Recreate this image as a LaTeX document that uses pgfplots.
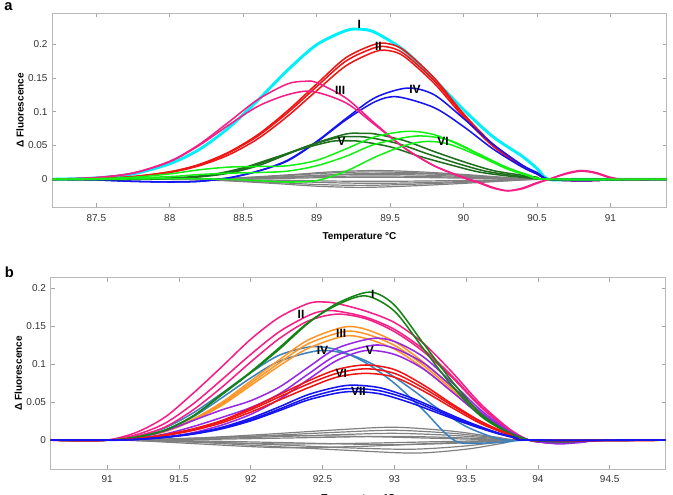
\documentclass[border=0pt]{standalone}
\usepackage{fontspec}
\setmainfont{Liberation Sans}
\usepackage{pgfplots}
\pgfplotsset{compat=1.18}
\definecolor{cI}{RGB}{0,240,250}
\definecolor{cRed}{RGB}{240,20,20}
\definecolor{cPink}{RGB}{245,30,135}
\definecolor{cBlue}{RGB}{20,20,240}
\definecolor{cDG}{RGB}{30,110,30}
\definecolor{cLG}{RGB}{20,240,20}
\definecolor{cGray}{RGB}{128,128,128}
\definecolor{cGreenB}{RGB}{20,130,20}
\definecolor{cOrange}{RGB}{255,150,40}
\definecolor{cPurple}{RGB}{150,40,230}
\definecolor{cSteel}{RGB}{60,130,190}
\tikzset{
  rl/.style={font=\fontsize{9}{10}\selectfont\bfseries, inner sep=0pt},
  gr/.style={cGray, line width=0.9pt},
}
\pgfplotsset{
  myax/.style={
    scale only axis, anchor=south west,
    axis line style={draw=gray!55},
    every tick/.style={gray!70, line width=0.5pt},
    tick align=inside, major tick length=3pt,
    ticklabel style={font=\fontsize{7.5}{8}\selectfont, text=black!80},
    xticklabel style={yshift=-1.5pt},
    /pgf/number format/assume math mode=true,
    scaled x ticks=false, scaled y ticks=false,
    yticklabel style={/pgf/number format/fixed, /pgf/number format/precision=2},
    xticklabel style={/pgf/number format/fixed, /pgf/number format/precision=1},
    ytick={0,0.05,0.1,0.15,0.2},
    xlabel style={font=\fontsize{7.5}{8}\selectfont\bfseries},
    ylabel style={font=\fontsize{7.5}{8}\selectfont\bfseries},
    xlabel shift=2pt, ylabel shift=-3.5pt,
    xlabel={Temperature °C}, ylabel={Δ Fluorescence},
    every axis plot/.append style={smooth, no markers, line width=1.15pt},
  },
}
\begin{document}
\begin{tikzpicture}
\useasboundingbox (0,0) rectangle (504.75pt,-370.5pt);
\node[anchor=north west, font=\fontsize{11}{12}\selectfont\bfseries, inner sep=0pt] at (3pt,-2pt) {a};
\node[anchor=north west, font=\fontsize{11}{12}\selectfont\bfseries, inner sep=0pt] at (3.5pt,-200pt) {b};
% ---------------- panel a ----------------
\begin{axis}[myax, at={(39.2pt,-155.5pt)}, width=460.8pt, height=145.5pt,
  xmin=87.2, xmax=91.383, ymin=-0.0415, ymax=0.2455,
  xtick={87.5,88,88.5,89,89.5,90,90.5,91}]
% gray
\addplot[gr] coordinates {(87.2,0)(88.0,0)(88.4,0.0016)(88.8,0.0065)(89.1,0.011)(89.4,0.013)(89.7,0.011)(90.0,0.0072)(90.3,0.0026)(90.55,0)(91.383,0)};
\addplot[gr] coordinates {(87.2,0)(88.0,0)(88.4,0.0013)(88.8,0.0055)(89.1,0.0094)(89.4,0.011)(89.7,0.0094)(90.0,0.006)(90.3,0.0022)(90.55,0)(91.383,0)};
\addplot[gr] coordinates {(87.2,0)(88.1,0)(88.5,0.0011)(88.9,0.0045)(89.2,0.0077)(89.5,0.009)(89.8,0.0077)(90.05,0.005)(90.3,0.0018)(90.55,0)(91.383,0)};
\addplot[gr] coordinates {(87.2,0)(88.0,0)(88.4,0.0009)(88.8,0.0038)(89.1,0.0064)(89.4,0.0075)(89.7,0.0064)(90.0,0.0041)(90.3,0.0015)(90.55,0)(91.383,0)};
\addplot[gr] coordinates {(87.2,0)(88.0,0)(88.4,0.0006)(88.8,0.0025)(89.1,0.0043)(89.4,0.005)(89.7,0.0043)(90.0,0.0028)(90.3,0.001)(90.55,0)(91.383,0)};
\addplot[gr] coordinates {(87.2,0)(88.0,0)(88.4,0.0004)(88.8,0.0015)(89.1,0.0026)(89.4,0.003)(89.7,0.0026)(90.0,0.0017)(90.3,0.0006)(90.55,0)(91.383,0)};
\addplot[gr] coordinates {(87.2,0)(88.0,0)(88.4,-0.0004)(88.8,-0.0015)(89.1,-0.0026)(89.4,-0.003)(89.7,-0.0026)(90.0,-0.0017)(90.3,-0.0006)(90.55,0)(91.383,0)};
\addplot[gr] coordinates {(87.2,0)(88.0,0)(88.4,-0.0007)(88.8,-0.003)(89.1,-0.0051)(89.4,-0.006)(89.7,-0.0051)(90.0,-0.0033)(90.3,-0.0012)(90.55,0)(91.383,0)};
\addplot[gr] coordinates {(87.2,0)(87.9,0)(88.3,-0.0011)(88.7,-0.0045)(89.0,-0.0077)(89.3,-0.009)(89.6,-0.0077)(89.95,-0.005)(90.3,-0.0018)(90.55,0)(91.383,0)};
\addplot[gr] coordinates {(87.2,0)(87.9,0)(88.3,-0.0014)(88.7,-0.006)(89.0,-0.0102)(89.3,-0.012)(89.6,-0.0102)(89.95,-0.0066)(90.3,-0.0024)(90.55,0)(91.383,0)};
% cyan I
\addplot[cI, line width=2.2pt] coordinates {(87.2,0)(87.5,0.002)(87.75,0.008)(88.0,0.023)(88.2,0.044)(88.4,0.076)(88.6,0.117)(88.8,0.161)(89.0,0.199)(89.2,0.220)(89.3,0.222)(89.4,0.217)(89.6,0.190)(89.8,0.148)(90.0,0.103)(90.2,0.063)(90.4,0.034)(90.5,0.016)(90.58,0)(90.8,0)(91.383,0)};
% red II
\addplot[cRed] coordinates {(87.2,0)(87.5,0.001)(87.75,0.004)(88.0,0.011)(88.2,0.022)(88.4,0.040)(88.6,0.066)(88.8,0.101)(89.0,0.141)(89.2,0.180)(89.4,0.200)(89.5,0.200)(89.6,0.190)(89.8,0.150)(90.0,0.097)(90.2,0.052)(90.4,0.020)(90.5,0.008)(90.58,0)(90.8,-0.002)(91.0,-0.001)(91.383,0)};
\addplot[cRed] coordinates {(87.2,0)(87.5,0.001)(87.75,0.004)(88.0,0.011)(88.2,0.021)(88.4,0.039)(88.6,0.064)(88.8,0.098)(89.0,0.137)(89.2,0.175)(89.4,0.195)(89.5,0.195)(89.6,0.185)(89.8,0.146)(90.0,0.095)(90.2,0.051)(90.4,0.020)(90.5,0.008)(90.58,0)(90.8,-0.002)(91.0,-0.001)(91.383,0)};
\addplot[cRed] coordinates {(87.2,0)(87.5,0.001)(87.75,0.003)(88.0,0.010)(88.2,0.020)(88.4,0.036)(88.6,0.060)(88.8,0.093)(89.0,0.131)(89.2,0.168)(89.4,0.189)(89.5,0.190)(89.6,0.181)(89.8,0.142)(90.0,0.092)(90.2,0.049)(90.4,0.019)(90.5,0.008)(90.58,0)(90.8,-0.002)(91.0,-0.001)(91.383,0)};
% blue IV
\addplot[cBlue] coordinates {(87.2,0)(87.5,-0.001)(87.75,-0.003)(88.0,-0.004)(88.2,-0.003)(88.4,0.002)(88.6,0.012)(88.8,0.028)(89.0,0.056)(89.2,0.090)(89.4,0.121)(89.62,0.135)(89.8,0.125)(90.0,0.090)(90.2,0.052)(90.4,0.021)(90.5,0.010)(90.58,0)(90.8,-0.002)(91.0,-0.001)(91.383,0)};
\addplot[cBlue] coordinates {(87.2,0)(87.5,-0.001)(87.75,-0.003)(88.0,-0.004)(88.2,-0.003)(88.4,0.002)(88.6,0.012)(88.8,0.027)(89.0,0.055)(89.2,0.088)(89.4,0.115)(89.55,0.122)(89.8,0.106)(90.0,0.078)(90.2,0.045)(90.4,0.018)(90.5,0.008)(90.58,0)(90.8,-0.002)(91.0,-0.001)(91.383,0)};
% dark green V
\addplot[cDG] coordinates {(87.2,0)(87.75,0)(88.0,0.001)(88.2,0.0035)(88.4,0.009)(88.6,0.020)(88.8,0.037)(89.0,0.054)(89.2,0.067)(89.3,0.068)(89.4,0.067)(89.6,0.057)(89.8,0.041)(90.0,0.026)(90.2,0.013)(90.4,0.006)(90.5,0.003)(90.58,0)(91.383,0)};
\addplot[cDG] coordinates {(87.2,0)(87.7,0)(87.95,0.001)(88.15,0.003)(88.35,0.008)(88.55,0.019)(88.75,0.034)(88.95,0.050)(89.15,0.062)(89.25,0.063)(89.35,0.062)(89.55,0.053)(89.75,0.038)(89.95,0.024)(90.15,0.012)(90.35,0.0055)(90.5,0.002)(90.58,0)(91.383,0)};
\addplot[cDG] coordinates {(87.2,0)(87.65,0)(87.9,0.001)(88.1,0.003)(88.3,0.0075)(88.5,0.017)(88.7,0.031)(88.9,0.045)(89.1,0.056)(89.2,0.057)(89.3,0.056)(89.5,0.048)(89.7,0.034)(89.9,0.022)(90.1,0.011)(90.3,0.005)(90.5,0.001)(90.58,0)(91.383,0)};
% pink III
\addplot[cPink] coordinates {(87.2,0)(87.5,0.0026)(87.75,0.0094)(88.0,0.0267)(88.2,0.0515)(88.4,0.0844)(88.6,0.118)(88.8,0.141)(88.92,0.145)(89.0,0.143)(89.2,0.120)(89.4,0.082)(89.6,0.046)(89.8,0.020)(90.0,0.003)(90.1,-0.004)(90.2,-0.012)(90.3,-0.017)(90.4,-0.014)(90.5,-0.006)(90.58,0)(90.7,0.009)(90.8,0.013)(90.9,0.010)(91.0,0.003)(91.1,0)(91.383,0)};
\addplot[cPink] coordinates {(87.2,0)(87.5,0.0025)(87.75,0.009)(88.0,0.026)(88.2,0.050)(88.4,0.080)(88.6,0.108)(88.8,0.125)(88.97,0.130)(89.2,0.113)(89.4,0.080)(89.6,0.046)(89.8,0.020)(90.0,0.002)(90.1,-0.005)(90.2,-0.013)(90.3,-0.017)(90.4,-0.013)(90.5,-0.005)(90.58,0)(90.7,0.008)(90.8,0.012)(90.9,0.009)(91.0,0.002)(91.1,0)(91.383,0)};
% light green VI
\addplot[cLG] coordinates {(87.2,0)(87.5,0.001)(87.75,0.003)(88.0,0.008)(88.2,0.014)(88.4,0.018)(88.6,0.019)(88.8,0.020)(89.0,0.028)(89.2,0.045)(89.4,0.063)(89.62,0.071)(89.8,0.066)(90.0,0.048)(90.2,0.026)(90.4,0.009)(90.58,0)(91.383,0)};
\addplot[cLG] coordinates {(87.2,0)(87.5,0)(88.0,0.004)(88.2,0.007)(88.4,0.009)(88.6,0.010)(88.8,0.012)(89.0,0.020)(89.2,0.034)(89.4,0.052)(89.68,0.064)(89.9,0.058)(90.1,0.038)(90.3,0.017)(90.45,0.006)(90.58,0)(91.383,0)};
\addplot[cLG] coordinates {(87.2,0)(87.5,0)(88.0,0.001)(88.4,0)(88.6,-0.002)(88.8,-0.004)(89.0,-0.002)(89.2,0.012)(89.4,0.033)(89.6,0.050)(89.75,0.056)(89.9,0.052)(90.1,0.035)(90.3,0.015)(90.45,0.005)(90.58,0)(91.383,0)};
\node[rl] at (axis cs:89.29,0.2295) {I};
\node[rl] at (axis cs:89.42,0.197) {II};
\node[rl] at (axis cs:89.16,0.131) {III};
\node[rl] at (axis cs:89.67,0.1325) {IV};
\node[rl] at (axis cs:89.17,0.056) {V};
\node[rl] at (axis cs:89.86,0.056) {VI};
\end{axis}
% ---------------- panel b ----------------
\begin{axis}[myax, at={(38.0pt,-351.75pt)}, width=461.25pt, height=143.5pt,
  xmin=90.606, xmax=94.89, ymin=-0.038, ymax=0.214,
  xtick={91,91.5,92,92.5,93,93.5,94,94.5}]
% gray
\addplot[gr] coordinates {(90.606,0)(91.1,0)(91.6,0.0026)(92.1,0.0077)(92.6,0.0136)(93.0,0.017)(93.4,0.0119)(93.7,0.0043)(93.92,0)(94.89,0)};
\addplot[gr] coordinates {(90.606,0)(91.1,0)(91.6,0.002)(92.1,0.0059)(92.6,0.0104)(93.0,0.013)(93.4,0.0091)(93.7,0.0033)(93.92,0)(94.89,0)};
\addplot[gr] coordinates {(90.606,0)(91.1,0)(91.6,0.0014)(92.1,0.0041)(92.6,0.0072)(93.0,0.009)(93.4,0.0063)(93.7,0.0023)(93.92,0)(94.89,0)};
\addplot[gr] coordinates {(90.606,0)(91.1,0)(91.6,0.0008)(92.1,0.0023)(92.6,0.004)(93.0,0.005)(93.4,0.0035)(93.7,0.0013)(93.92,0)(94.89,0)};
\addplot[gr] coordinates {(90.606,0)(91.1,0)(91.6,-0.0009)(92.1,-0.0027)(92.6,-0.0048)(93.0,-0.006)(93.4,-0.0042)(93.7,-0.0015)(93.92,0)(94.89,0)};
\addplot[gr] coordinates {(90.606,0)(91.1,0)(91.6,-0.0018)(92.1,-0.0054)(92.6,-0.0096)(93.1,-0.012)(93.45,-0.0084)(93.72,-0.003)(93.92,0)(94.89,0)};
\addplot[gr] coordinates {(90.606,0)(91.1,0)(91.6,-0.0026)(92.1,-0.0077)(92.7,-0.0136)(93.15,-0.017)(93.5,-0.0119)(93.75,-0.0043)(93.92,0)(94.89,0)};
\addplot[gr] coordinates {(90.606,0)(91.1,0)(91.5,0.0021)(92.0,0.0051)(92.3,0.006)(92.8,0.0048)(93.3,0.0024)(93.7,0.0006)(93.92,0)(94.89,0)};
\addplot[gr] coordinates {(90.606,0)(91.1,0)(91.5,-0.0018)(92.0,-0.0043)(92.3,-0.005)(92.8,-0.004)(93.3,-0.002)(93.7,-0.0005)(93.92,0)(94.89,0)};
\addplot[gr] coordinates {(90.606,0)(91.1,0)(91.5,-0.0035)(92.0,-0.0085)(92.3,-0.010)(92.8,-0.008)(93.3,-0.004)(93.7,-0.001)(93.92,0)(94.89,0)};
% steel blue IV
\addplot[cSteel] coordinates {(90.606,0)(91.0,0)(91.2,0.005)(91.4,0.016)(91.6,0.036)(91.8,0.062)(92.0,0.089)(92.2,0.112)(92.42,0.123)(92.6,0.119)(92.8,0.102)(93.0,0.075)(93.2,0.040)(93.35,0.010)(93.45,-0.003)(93.6,-0.004)(93.8,-0.002)(93.94,0)(94.89,0)};
\addplot[cSteel] coordinates {(90.606,0)(91.0,0)(91.2,0.004)(91.4,0.013)(91.6,0.031)(91.8,0.056)(92.0,0.082)(92.2,0.104)(92.48,0.118)(92.7,0.112)(92.9,0.095)(93.1,0.070)(93.3,0.042)(93.5,0.018)(93.7,0.003)(93.8,0)(93.94,0)(94.89,0)};
% pink II
\addplot[cPink] coordinates {(90.606,0)(90.8,-0.001)(91.0,0)(91.2,0.010)(91.4,0.030)(91.6,0.062)(91.8,0.097)(92.0,0.133)(92.2,0.162)(92.4,0.180)(92.5,0.182)(92.6,0.180)(92.8,0.170)(93.0,0.155)(93.2,0.128)(93.4,0.090)(93.6,0.048)(93.8,0.015)(93.94,0)(94.05,-0.003)(94.15,-0.004)(94.3,-0.002)(94.45,0)(94.89,0)};
\addplot[cPink] coordinates {(90.606,0)(90.8,-0.001)(91.0,0)(91.2,0.007)(91.4,0.022)(91.6,0.048)(91.8,0.080)(92.0,0.113)(92.2,0.143)(92.4,0.164)(92.5,0.170)(92.6,0.170)(92.8,0.162)(93.0,0.146)(93.2,0.120)(93.4,0.085)(93.6,0.045)(93.8,0.014)(93.94,0)(94.15,-0.004)(94.45,0)(94.89,0)};
\addplot[cPink] coordinates {(90.606,0)(91.0,0)(91.2,0.005)(91.4,0.017)(91.6,0.040)(91.8,0.070)(92.0,0.103)(92.2,0.134)(92.4,0.157)(92.6,0.166)(92.8,0.160)(93.0,0.143)(93.2,0.117)(93.4,0.083)(93.6,0.044)(93.8,0.013)(93.94,0)(94.15,-0.004)(94.45,0)(94.89,0)};
% orange III
\addplot[cOrange] coordinates {(90.606,0)(91.0,0)(91.2,0.004)(91.4,0.012)(91.6,0.028)(91.8,0.050)(92.0,0.078)(92.2,0.106)(92.4,0.132)(92.65,0.149)(92.8,0.146)(93.0,0.130)(93.2,0.103)(93.4,0.070)(93.6,0.037)(93.8,0.012)(93.94,0)(94.89,0)};
\addplot[cOrange] coordinates {(90.606,0)(91.0,0)(91.2,0.004)(91.4,0.0115)(91.6,0.027)(91.8,0.048)(92.0,0.075)(92.2,0.102)(92.4,0.127)(92.65,0.143)(92.8,0.140)(93.0,0.125)(93.2,0.099)(93.4,0.067)(93.6,0.036)(93.8,0.0115)(93.94,0)(94.89,0)};
\addplot[cOrange] coordinates {(90.606,0)(91.0,0)(91.2,0.0035)(91.4,0.011)(91.6,0.026)(91.8,0.046)(92.0,0.072)(92.2,0.098)(92.4,0.121)(92.65,0.137)(92.8,0.134)(93.0,0.120)(93.2,0.095)(93.4,0.064)(93.6,0.034)(93.8,0.011)(93.94,0)(94.89,0)};
% purple V
\addplot[cPurple] coordinates {(90.606,0)(91.0,0)(91.2,0.003)(91.4,0.012)(91.6,0.026)(91.8,0.040)(92.0,0.052)(92.2,0.070)(92.4,0.096)(92.6,0.121)(92.85,0.134)(93.0,0.130)(93.2,0.110)(93.4,0.076)(93.6,0.040)(93.8,0.012)(93.94,0)(94.05,-0.003)(94.15,-0.005)(94.3,-0.003)(94.45,0)(94.89,0)};
\addplot[cPurple] coordinates {(90.606,0)(91.0,0)(91.2,0.002)(91.4,0.008)(91.6,0.018)(91.8,0.030)(92.0,0.043)(92.2,0.061)(92.4,0.087)(92.6,0.112)(92.85,0.125)(93.0,0.121)(93.2,0.102)(93.4,0.071)(93.6,0.037)(93.8,0.011)(93.94,0)(94.15,-0.004)(94.45,0)(94.89,0)};
\addplot[cPurple] coordinates {(90.606,0)(91.1,0)(91.4,0.004)(91.6,0.010)(91.8,0.020)(92.0,0.034)(92.2,0.054)(92.4,0.080)(92.6,0.105)(92.8,0.118)(93.0,0.113)(93.2,0.094)(93.4,0.064)(93.6,0.033)(93.8,0.010)(93.94,0)(94.15,-0.004)(94.45,0)(94.89,0)};
% green I
\addplot[cGreenB] coordinates {(90.606,0)(91.0,0)(91.2,0.004)(91.4,0.013)(91.6,0.032)(91.8,0.060)(92.0,0.089)(92.2,0.120)(92.4,0.154)(92.6,0.180)(92.83,0.195)(93.0,0.178)(93.2,0.128)(93.4,0.078)(93.6,0.035)(93.8,0.010)(93.94,0)(94.0,-0.001)(94.2,-0.002)(94.4,0)(94.89,0)};
\addplot[cGreenB] coordinates {(90.606,0)(91.0,0)(91.2,0.004)(91.4,0.013)(91.6,0.032)(91.8,0.061)(92.0,0.090)(92.2,0.122)(92.4,0.155)(92.6,0.178)(92.8,0.190)(93.0,0.170)(93.2,0.121)(93.4,0.072)(93.6,0.032)(93.8,0.009)(93.94,0)(94.2,-0.002)(94.4,0)(94.89,0)};
% red VI
\addplot[cRed] coordinates {(90.606,0)(91.0,0)(91.2,0.002)(91.4,0.007)(91.6,0.015)(91.8,0.026)(92.0,0.042)(92.2,0.060)(92.4,0.078)(92.6,0.093)(92.8,0.099)(93.0,0.093)(93.2,0.073)(93.4,0.048)(93.6,0.025)(93.8,0.008)(93.94,0)(94.89,0)};
\addplot[cRed] coordinates {(90.606,0)(91.0,0)(91.2,0.002)(91.4,0.0067)(91.6,0.014)(91.8,0.025)(92.0,0.040)(92.2,0.057)(92.4,0.074)(92.6,0.088)(92.8,0.094)(93.0,0.088)(93.2,0.069)(93.4,0.046)(93.6,0.024)(93.8,0.0076)(93.94,0)(94.89,0)};
\addplot[cRed] coordinates {(90.606,0)(91.0,0)(91.2,0.0018)(91.4,0.006)(91.6,0.013)(91.8,0.023)(92.0,0.037)(92.2,0.053)(92.4,0.069)(92.6,0.083)(92.8,0.088)(93.0,0.083)(93.2,0.065)(93.4,0.043)(93.6,0.022)(93.8,0.007)(93.94,0)(94.89,0)};
% blue VII
\addplot[cBlue] coordinates {(90.606,0)(91.0,0)(91.2,0.001)(91.4,0.004)(91.6,0.009)(91.8,0.017)(92.0,0.029)(92.2,0.044)(92.4,0.060)(92.6,0.070)(92.72,0.0725)(92.9,0.069)(93.1,0.057)(93.3,0.041)(93.5,0.025)(93.7,0.011)(93.85,0.003)(93.94,0)(94.89,0)};
\addplot[cBlue] coordinates {(90.606,0)(91.0,0)(91.2,0.001)(91.4,0.0038)(91.6,0.0085)(91.8,0.016)(92.0,0.027)(92.2,0.041)(92.4,0.056)(92.6,0.066)(92.72,0.068)(92.9,0.065)(93.1,0.054)(93.3,0.0385)(93.5,0.0235)(93.7,0.0103)(93.85,0.003)(93.94,0)(94.89,0)};
\addplot[cBlue] coordinates {(90.606,0)(91.0,0)(91.2,0.001)(91.4,0.0035)(91.6,0.008)(91.8,0.015)(92.0,0.0255)(92.2,0.039)(92.4,0.053)(92.6,0.062)(92.72,0.064)(92.9,0.061)(93.1,0.050)(93.3,0.036)(93.5,0.022)(93.7,0.0097)(93.85,0.0026)(93.94,0)(94.89,0)};
\node[rl] at (axis cs:92.85,0.1926) {I};
\node[rl] at (axis cs:92.35,0.1655) {II};
\node[rl] at (axis cs:92.63,0.141) {III};
\node[rl] at (axis cs:92.5,0.118) {IV};
\node[rl] at (axis cs:92.83,0.118) {V};
\node[rl] at (axis cs:92.63,0.088) {VI};
\node[rl] at (axis cs:92.75,0.064) {VII};
\end{axis}
\end{tikzpicture}
\end{document}
